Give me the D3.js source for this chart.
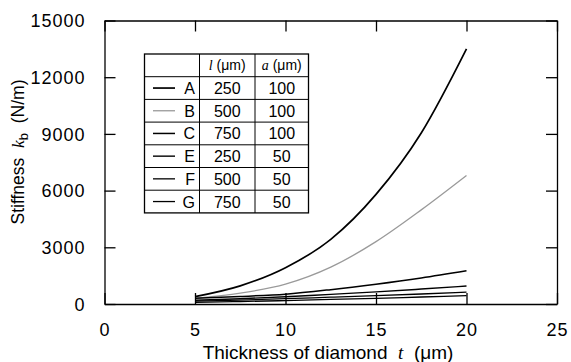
<!DOCTYPE html>
<html>
<head>
<meta charset="utf-8">
<script src="https://cdn.jsdelivr.net/npm/d3@7"></script>
<style>
body{margin:0;background:#fff;}
svg{font-family:"Liberation Sans",Arial,sans-serif;}
.lbl{white-space:pre;}
</style>
</head>
<body>
<script>
// thickness t (um) where curves were read
const thickness = [5, 7.5, 10, 12.5, 15, 17.5, 20];
const seriesNames = ["A", "B", "C", "E", "F", "G"];
const lengths = [250, 500, 750, 250, 500, 750];
const widthsA = [100, 100, 100, 50, 50, 50];
const kA = [390, 960, 1920, 3420, 5800, 9050, 13500];
const kB = [300, 570, 1050, 1950, 3300, 4980, 6800];
const kC = [300, 400, 520, 760, 1050, 1380, 1760];
const kE = [200, 280, 380, 510, 640, 790, 950];
const kF = [150, 210, 280, 360, 440, 530, 630];
const kG = [90, 130, 180, 240, 300, 370, 440];
const xTicks = [0, 5, 10, 15, 20, 25];
const yTicks = [0, 3000, 6000, 9000, 12000, 15000];

const allK = [kA, kB, kC, kE, kF, kG];
const lineColor = ["#000", "#9a9a9a", "#000", "#000", "#000", "#000"];
const lineW = [1.7, 1.3, 1.5, 1.4, 1.3, 1.3];

const W = 571, H = 362;
const svg = d3.select("body").append("svg").attr("width", W).attr("height", H);

const x = d3.scaleLinear().domain([0, 25]).range([104.5, 557]);
const y = d3.scaleLinear().domain([0, 15000]).range([304, 20.5]);

const line = d3.line()
  .x((d, i) => x(thickness[i]))
  .y(d => y(d))
  .curve(d3.curveMonotoneX);

svg.append("g").selectAll("path")
  .data(allK)
  .enter().append("path")
  .attr("d", line)
  .attr("fill", "none")
  .attr("stroke", (d, i) => lineColor[i])
  .attr("stroke-width", (d, i) => lineW[i]);

// axes with inward ticks on four sides
const tick = 11;
const fmt = d3.format("d");
const axB = svg.append("g").attr("transform", `translate(0,${y(0)})`)
  .call(d3.axisBottom(x).tickValues(xTicks).tickFormat(fmt).tickSizeInner(-tick).tickSizeOuter(0).tickPadding(tick + 8));
const axT = svg.append("g").attr("transform", `translate(0,${y(15000)})`)
  .call(d3.axisTop(x).tickValues(xTicks).tickSizeInner(-tick).tickSizeOuter(0).tickFormat(""));
const axL = svg.append("g").attr("transform", `translate(${x(0)},0)`)
  .call(d3.axisLeft(y).tickValues(yTicks).tickFormat(fmt).tickSizeInner(-tick).tickSizeOuter(0).tickPadding(tick + 8));
const axR = svg.append("g").attr("transform", `translate(${x(25)},0)`)
  .call(d3.axisRight(y).tickValues(yTicks).tickSizeInner(-tick).tickSizeOuter(0).tickFormat(""));

[axB, axT, axL, axR].forEach(a => {
  a.attr("font-size", null).attr("font-family", null);
  a.select(".domain").attr("stroke", "#000").attr("stroke-width", 1.3);
  a.selectAll(".tick line").attr("stroke", "#000").attr("stroke-width", 1.3);
  a.selectAll("text").style("font-size", "18px").style("letter-spacing", "1px").attr("fill", "#000");
});
axL.selectAll("text").attr("dy", "0.35em");

// axis labels
const yl = svg.append("text").attr("class", "lbl")
  .attr("transform", "translate(24,152) rotate(-90)")
  .attr("text-anchor", "middle")
  .style("font-size", "17.5px");
yl.append("tspan").text("Stiffness  ");
yl.append("tspan").attr("font-style", "italic").attr("font-family", "Liberation Serif, serif").text("k");
yl.append("tspan").style("font-size", "13px").attr("dy", 4).text("b");
yl.append("tspan").attr("dy", -4).text("  (N/m)");

const xl = svg.append("text").attr("class", "lbl")
  .attr("x", 328).attr("y", 359)
  .attr("text-anchor", "middle")
  .style("font-size", "19px");
xl.append("tspan").text("Thickness of diamond  ");
xl.append("tspan").attr("font-style", "italic").attr("font-family", "Liberation Serif, serif").text("t");
xl.append("tspan").text("  (\u03bcm)");

// legend table
const tx = 144.5, ty = 54, rowH = 22.7;
const colX = [tx, 199.5, 255, 308.5];
const nRows = seriesNames.length + 1;
const tbl = svg.append("g");
tbl.append("rect")
  .attr("x", tx).attr("y", ty)
  .attr("width", colX[3] - tx).attr("height", rowH * nRows)
  .attr("fill", "#fff").attr("stroke", "#000").attr("stroke-width", 1.3);
d3.range(1, nRows).forEach(r => {
  tbl.append("line").attr("x1", tx).attr("x2", colX[3])
    .attr("y1", ty + r * rowH).attr("y2", ty + r * rowH)
    .attr("stroke", "#000").attr("stroke-width", 1);
});
[1, 2].forEach(c => {
  tbl.append("line").attr("x1", colX[c]).attr("x2", colX[c])
    .attr("y1", ty).attr("y2", ty + rowH * nRows)
    .attr("stroke", "#000").attr("stroke-width", 1);
});
const h1 = tbl.append("text").attr("x", (colX[1] + colX[2]) / 2).attr("y", ty + rowH / 2 + 5)
  .attr("text-anchor", "middle").style("font-size", "14px");
h1.append("tspan").attr("font-style", "italic").attr("font-family", "Liberation Serif, serif").text("l");
h1.append("tspan").text(" (\u03bcm)");
const h2 = tbl.append("text").attr("x", (colX[2] + colX[3]) / 2).attr("y", ty + rowH / 2 + 5)
  .attr("text-anchor", "middle").style("font-size", "14px");
h2.append("tspan").attr("font-style", "italic").attr("font-family", "Liberation Serif, serif").text("a");
h2.append("tspan").text(" (\u03bcm)");

const rows = tbl.selectAll(".row").data(seriesNames).enter().append("g")
  .attr("transform", (d, i) => `translate(0,${ty + (i + 1) * rowH})`);
rows.append("line")
  .attr("x1", 153).attr("x2", 175)
  .attr("y1", rowH / 2).attr("y2", rowH / 2)
  .attr("stroke", (d, i) => lineColor[i]).attr("stroke-width", (d, i) => lineW[i]);
rows.append("text").attr("x", 195).attr("y", rowH / 2 + 6)
  .attr("text-anchor", "end").style("font-size", "16px").text(d => d);
rows.append("text").attr("x", (colX[1] + colX[2]) / 2).attr("y", rowH / 2 + 6)
  .attr("text-anchor", "middle").style("font-size", "16px").text((d, i) => lengths[i]);
rows.append("text").attr("x", (colX[2] + colX[3]) / 2).attr("y", rowH / 2 + 6)
  .attr("text-anchor", "middle").style("font-size", "16px").text((d, i) => widthsA[i]);
</script>
</body>
</html>
